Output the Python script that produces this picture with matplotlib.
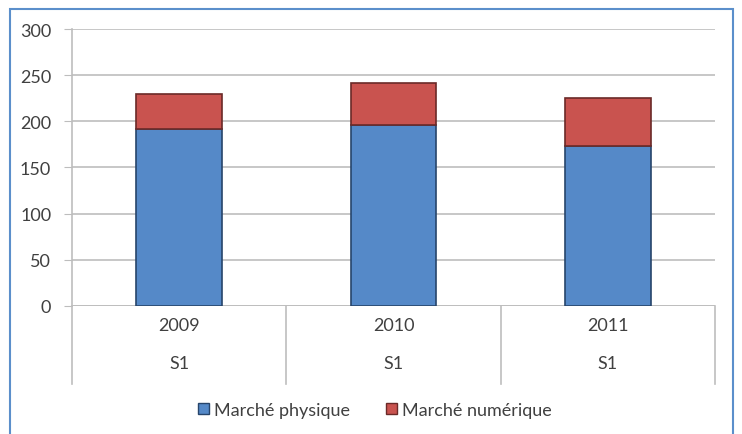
import matplotlib
matplotlib.use("Agg")
import matplotlib.pyplot as plt
from matplotlib.patches import Rectangle, Patch
import matplotlib.transforms as mtransforms

plt.rcParams['font.family'] = ['Lato', 'DejaVu Sans']

# data
years = ["2009", "2010", "2011"]
semesters = ["S1", "S1", "S1"]
physique = [192, 196, 173]
numerique = [38, 45, 52]
yticks = [0, 50, 100, 150, 200, 250, 300]

blue = "#5589C8"
red = "#C9534F"
grid_col = "#BDBDBD"
txt_col = "#404040"
fs = 13

fig = plt.figure(figsize=(7.42, 4.35), dpi=100)
ax = fig.add_axes([0.097, 0.2943, 0.8666, 0.6367])

# outer frame of the chart area
fig.patches.append(Rectangle((10 / 742, -0.05), 723 / 742, 1.05 - 10 / 435,
                             transform=fig.transFigure, fill=False,
                             edgecolor="#5B8FCB", linewidth=1.5))

x = list(range(len(years)))
ax.bar(x, physique, width=0.4, color=blue, edgecolor="#27456B", linewidth=1.2, zorder=3)
ax.bar(x, numerique, width=0.4, bottom=physique, color=red, edgecolor="#6B2A28",
       linewidth=1.2, zorder=3)

ax.set_xlim(-0.5, len(years) - 0.5)
ax.set_ylim(0, 300)
ax.set_yticks(yticks)
ax.yaxis.grid(True, color=grid_col, linewidth=1.2)
ax.set_axisbelow(True)
for s in ["top", "right", "bottom"]:
    ax.spines[s].set_visible(False)
ax.spines["left"].set_color(grid_col)
ax.spines["left"].set_linewidth(1.2)
ax.tick_params(axis="y", length=6, color=grid_col, labelsize=fs, labelcolor=txt_col, pad=9)
ax.set_xticks([])

# multi-level category axis
trans = mtransforms.blended_transform_factory(ax.transData, ax.transAxes)
ax.axhline(0, color=grid_col, linewidth=1.2, zorder=2)
for b in [i - 0.5 for i in range(len(years) + 1)]:
    ax.plot([b, b], [0, -0.2816], transform=trans, color=grid_col, linewidth=1.2,
            clip_on=False)
for i in x:
    ax.text(i, -0.07, years[i], transform=trans, ha="center", va="center",
            fontsize=fs, color=txt_col)
    ax.text(i, -0.205, semesters[i], transform=trans, ha="center", va="center",
            fontsize=fs, color=txt_col)

handles = [Patch(facecolor=blue, edgecolor="#27456B"),
           Patch(facecolor=red, edgecolor="#6B2A28")]
fig.legend(handles, ["Marché physique", "Marché numérique"], loc="center",
           bbox_to_anchor=(375 / 742, 1 - 411 / 435), ncol=2, frameon=False,
           fontsize=fs, handlelength=0.6, handleheight=0.6, handletextpad=0.3,
           columnspacing=2.0, labelcolor=txt_col)

fig.savefig("out.png", dpi=100)
